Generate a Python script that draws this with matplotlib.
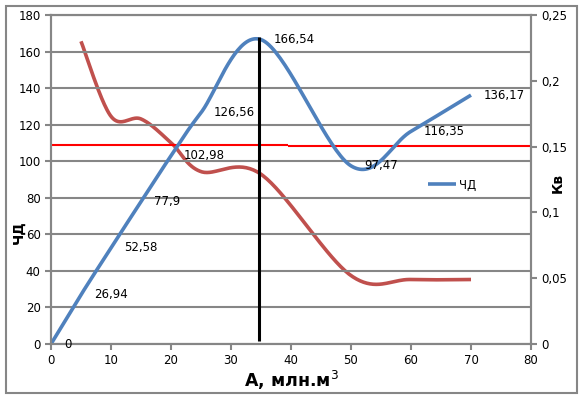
import numpy as np
import matplotlib
matplotlib.use("Agg")
import matplotlib.pyplot as plt
from matplotlib.patches import Rectangle

# --- data ---
x_pts = [0, 5, 10, 15, 20, 25, 35, 50, 60, 70]
chd = [0, 26.94, 52.58, 77.9, 102.98, 126.56, 166.54, 97.47, 116.35, 136.17]
chd_labels = ["0", "26,94", "52,58", "77,9", "102,98", "126,56", "166,54", "97,47", "116,35", "136,17"]

kv_x = [5, 10, 15, 20, 25, 35, 50, 60, 70]
kv = [0.230, 0.173, 0.171, 0.153, 0.131, 0.129, 0.052, 0.049, 0.049]

# red horizontal level (right axis), two pieces with a small step
level_x = [[0, 39.5], [39.5, 80]]
level_y = [0.1512, 0.1505]

# black vertical marker
mark_x = 34.6
mark_y = [1.5, 168]

x_ticks = list(range(0, 81, 10))
y_ticks = list(range(0, 181, 20))
kv_ticks = [0, 0.05, 0.1, 0.15, 0.2, 0.25]
kv_tick_labels = ["0", "0,05", "0,1", "0,15", "0,2", "0,25"]

GRAY = "#868686"
BLUE = "#4F81BD"
RED = "#C0504D"


def smooth(xs, ys, sx, sy, n=40):
    # excel-like smoothed line: catmull-rom bezier in screen-ish units
    P = np.column_stack([np.asarray(xs, float) * sx, np.asarray(ys, float) * sy])
    m = len(P)
    out = [P[0]]
    t = np.linspace(0, 1, n)[1:, None]
    for i in range(m - 1):
        p0 = P[max(i - 1, 0)]
        p1 = P[i]
        p2 = P[i + 1]
        p3 = P[min(i + 2, m - 1)]
        c1 = p1 + (p2 - p0) / 6
        c2 = p2 - (p3 - p1) / 6
        seg = ((1 - t) ** 3) * p1 + 3 * ((1 - t) ** 2) * t * c1 + 3 * (1 - t) * t ** 2 * c2 + t ** 3 * p2
        out.extend(seg)
    out = np.array(out)
    return out[:, 0] / sx, out[:, 1] / sy


fig = plt.figure(figsize=(5.81, 3.97), dpi=100)
ax = fig.add_axes([51 / 581, 53 / 397, 480 / 581, 329 / 397])
ax2 = ax.twinx()
ax.set_zorder(ax2.get_zorder() + 1)
ax.patch.set_visible(False)

sx = 480 / 80
bx, by = smooth(x_pts, chd, sx, 329 / 180)
ax.plot(bx, by, color=BLUE, lw=2.6, label="ЧД", solid_capstyle="butt")

rx, ry = smooth(kv_x, kv, sx, 329 / 0.25)
ax2.plot(rx, ry, color=RED, lw=2.6, solid_capstyle="butt")

for seg_x, lv in zip(level_x, level_y):
    ax2.plot(seg_x, [lv, lv], color="#FF0000", lw=1.5, solid_capstyle="butt")

ax.plot([mark_x, mark_x], mark_y, color="black", lw=2.2, zorder=5, solid_capstyle="butt")

for xv, yv, lab in zip(x_pts, chd, chd_labels):
    ax.annotate(lab, (xv, yv), xytext=(13, 0), textcoords="offset pixels",
                ha="left", va="center", fontsize=8.5, zorder=6)

ax.set_xlim(0, 80)
ax.set_ylim(0, 180)
ax2.set_ylim(0, 0.25)
ax.set_xticks(x_ticks)
ax.set_yticks(y_ticks)
ax2.set_yticks(kv_ticks)
ax2.set_yticklabels(kv_tick_labels)

ax.yaxis.grid(True, color=GRAY, lw=1.5)
ax.set_axisbelow(True)

for a in (ax, ax2):
    for s in a.spines.values():
        s.set_color(GRAY)
        s.set_linewidth(1.5)
    a.tick_params(colors=GRAY, labelcolor="black", labelsize=8.5, width=1.5, length=4, direction="out")

leg = ax.legend(loc="center left", bbox_to_anchor=((428 - 51) / 480, (344 - 185) / 329),
                frameon=False, borderaxespad=0, borderpad=0, handlelength=2.4,
                handletextpad=0.2, fontsize=8.5)

fig.text(291 / 581, 1 - 380 / 397, "А, млн.м$^3$", ha="center", va="center",
         fontsize=12.5, fontweight="bold")
fig.text(19 / 581, 1 - 232 / 397, "ЧД", rotation=90, ha="center", va="center",
         fontsize=10, fontweight="bold")
fig.text(558 / 581, 1 - 183 / 397, "Кв", rotation=90, ha="center", va="center",
         fontsize=10, fontweight="bold")

fig.patches.append(Rectangle((6 / 581, 4 / 397), 571 / 581, 387 / 397, transform=fig.transFigure,
                             fill=False, edgecolor=GRAY, lw=1.5))

fig.savefig("out.png", dpi=100)
